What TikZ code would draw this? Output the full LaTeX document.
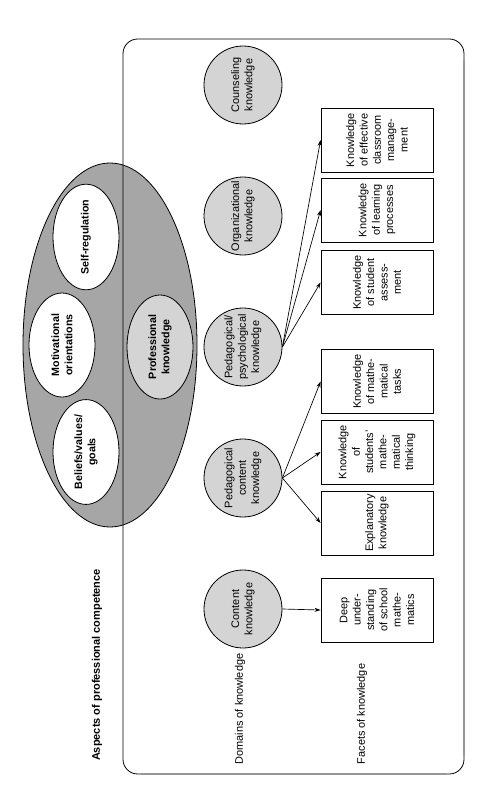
\documentclass[tikz,border=0pt]{standalone}
\usepackage{fontspec}
\setmainfont{Liberation Sans}
\usetikzlibrary{shapes.geometric,arrows.meta}
\definecolor{biggray}{RGB}{166,166,166}
\definecolor{lightgrayfill}{RGB}{212,212,212}
\definecolor{edgegray}{RGB}{150,150,150}
\begin{document}
\begin{tikzpicture}[x=0.75pt,y=-0.75pt,
  every node/.style={font=\fontsize{8.2}{10}\selectfont, align=center, line width=0.6pt},
  dom/.style={circle, draw, fill=lightgrayfill, minimum size=58.5pt, inner sep=0pt, rotate=90},
  facet/.style={rectangle, draw, fill=white, minimum width=48pt, minimum height=84pt, inner sep=0pt, rotate=90},
  aspectell/.style={ellipse, draw, fill=white, minimum width=78pt, minimum height=49.5pt, inner sep=0pt, rotate=90, font=\fontsize{8}{10}\selectfont\bfseries},
  rottext/.style={rotate=90},
  arr/.style={-{Stealth[length=4.5pt,width=3pt]}, line width=0.5pt}
]
\useasboundingbox (0,0) rectangle (476,792);
% big ellipse
\filldraw[fill=biggray, draw=black, line width=0.6pt] (110,345) ellipse [x radius=65.25pt, y radius=136.5pt];
% frame
\draw[line width=0.6pt, rounded corners=11pt] (123,39) rectangle (464,774);
\draw[edgegray, line width=1.1pt] (464,60) -- (464,756);
\draw[edgegray, line width=1.1pt] (141,774) -- (446,774);
% aspects ellipses
\node[aspectell] (selfreg) at (86,237) {Self-regulation};
\node[aspectell] (motiv) at (62,345) {Motivational\\orientations};
\node[aspectell] (beliefs) at (86,452) {Beliefs/values/\\goals};
\node[aspectell, fill=lightgrayfill] (prof) at (160,347) {Professional\\knowledge};
% domains
\node[dom] (couns) at (243,85) {Counseling\\knowledge};
\node[dom] (org) at (243,216) {Organizational\\knowledge};
\node[dom] (pp) at (243,347) {Pedagogical/\\psychological\\knowledge};
\node[dom] (pck) at (243,478) {Pedagogical\\content\\knowledge};
\node[dom] (ck) at (243,609) {Content\\knowledge};
% facets
\node[facet] (f1) at (377,140) {Knowledge\\of effective\\classroom\\manage-\\ment};
\node[facet] (f2) at (377,210) {Knowledge\\of learning\\processes};
\node[facet] (f3) at (377,282.5) {Knowledge\\of student\\assess-\\ment};
\node[facet] (f4) at (377,381.5) {Knowledge\\of mathe-\\matical\\tasks};
\node[facet] (f5) at (377,452) {Knowledge\\of\\students'\\mathe-\\matical\\thinking};
\node[facet] (f6) at (377,523) {Explanatory\\knowledge};
\node[facet] (f7) at (377,610) {Deep\\under-\\standing\\of school\\mathe-\\matics};
% labels
\node[rottext, font=\fontsize{8.25}{10}\selectfont\bfseries] (aspects) at (97,665) {Aspects of professional competence};
\node[rottext] (domains) at (240,709) {Domains of knowledge};
\node[rottext] (facets) at (362,714) {Facets of knowledge};
% arrows
\draw[arr] (pp.south) -- (f1.north);
\draw[arr] (pp.south) -- (f2.north);
\draw[arr] (pp.south) -- (f3.north);
\draw[arr] (pck.south) -- (f4.north);
\draw[arr] (pck.south) -- (f5.north);
\draw[arr] (pck.south) -- (f6.north);
\draw[arr] (ck.south) -- (f7.north);
\end{tikzpicture}
\end{document}
